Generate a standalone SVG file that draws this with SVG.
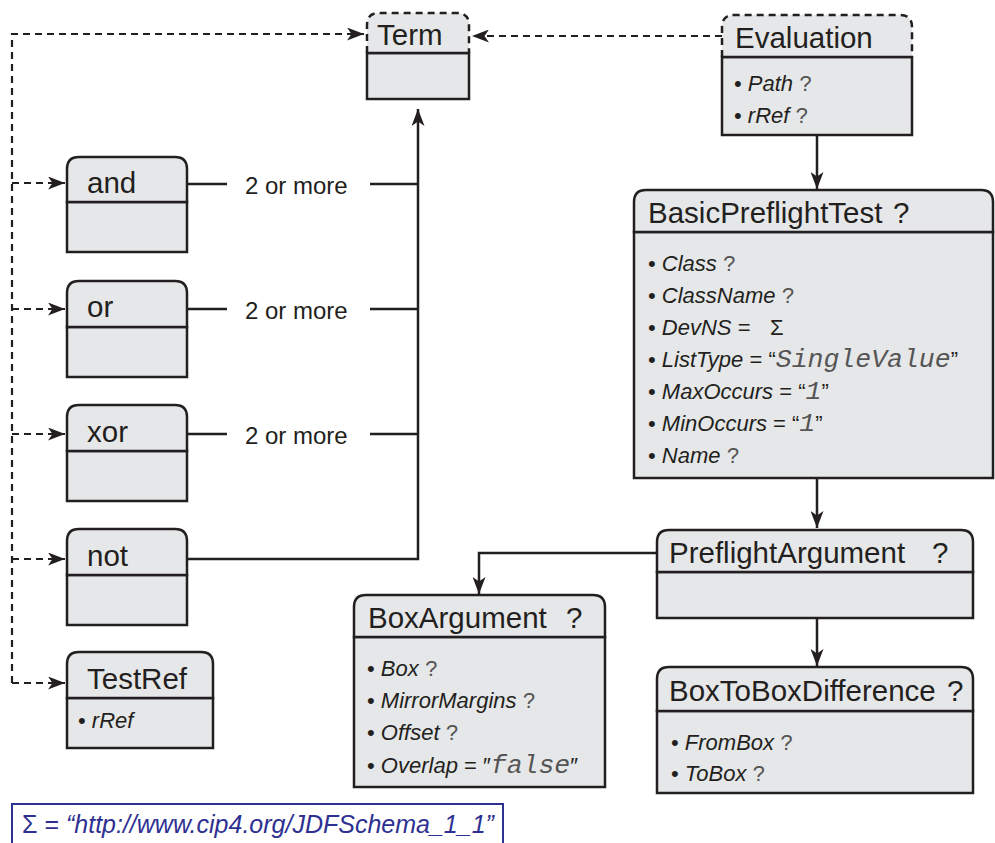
<svg xmlns="http://www.w3.org/2000/svg" width="995" height="843" viewBox="0 0 995 843">
<defs>
<style>
.hd{fill:#e6e7e8;stroke:#231f20;stroke-width:2.5}
.bd{fill:#e6e7e8;stroke:#231f20;stroke-width:2.5}
.dh{fill:#e6e7e8;stroke:#231f20;stroke-width:2.5;stroke-dasharray:7 5}
.ln{fill:none;stroke:#231f20;stroke-width:2.5}
.dl{fill:none;stroke:#231f20;stroke-width:2.2;stroke-dasharray:7 5}
.t{font-family:"Liberation Sans",Arial,sans-serif;font-size:29.5px;fill:#231f20}
.s{font-family:"Liberation Sans",Arial,sans-serif;font-size:24px;fill:#231f20}
.a{font-family:"Liberation Sans",Arial,sans-serif;font-size:22px;fill:#231f20}
.i{font-style:italic}
.q{font-family:"Liberation Mono","Courier New",monospace;fill:#555}
.m{font-family:"Liberation Mono","Courier New",monospace;font-style:italic;fill:#555;font-size:26.5px}
.ft{font-family:"Liberation Sans",Arial,sans-serif;font-size:25px;fill:#2e3192}
</style>
<marker id="ar" viewBox="0 0 17 13" refX="17" refY="6.5" markerWidth="17" markerHeight="13" markerUnits="userSpaceOnUse" orient="auto">
<path d="M0,0 L17,6.5 L0,13 L4.5,6.5 z" fill="#231f20"/>
</marker>
</defs>

<g id="connectors">
<path class="dl" d="M12,683 V34 H364" marker-end="url(#ar)"/>
<path class="dl" d="M12,183 H65" marker-end="url(#ar)"/>
<path class="dl" d="M12,309 H65" marker-end="url(#ar)"/>
<path class="dl" d="M12,434 H65" marker-end="url(#ar)"/>
<path class="dl" d="M12,559 H65" marker-end="url(#ar)"/>
<path class="dl" d="M12,683 H65" marker-end="url(#ar)"/>
<path class="dl" d="M722,36 H472" marker-end="url(#ar)"/>
<path class="ln" d="M187,184 H227 M370,184 H418"/>
<path class="ln" d="M187,309 H227 M370,309 H418"/>
<path class="ln" d="M187,434 H227 M370,434 H418"/>
<path class="ln" d="M187,559 H418 V109" marker-end="url(#ar)"/>
<path class="ln" d="M817,135 V189" marker-end="url(#ar)"/>
<path class="ln" d="M817,478 V528" marker-end="url(#ar)"/>
<path class="ln" d="M657,553 H479 V594" marker-end="url(#ar)"/>
<path class="ln" d="M817,618 V666" marker-end="url(#ar)"/>
<text class="s" x="245" y="194">2 or more</text>
<text class="s" x="245" y="319">2 or more</text>
<text class="s" x="245" y="444">2 or more</text>
</g>

<g id="Term">
<rect class="bd" x="367" y="53" width="102" height="46"/>
<path class="dh" d="M367,53 V25 Q367,13 379,13 H457 Q469,13 469,25 V53"/>
<path class="ln" d="M367,53 H469"/>
<text class="t" x="377" y="45">Term</text>
</g>

<g id="Evaluation">
<rect class="bd" x="722" y="57" width="190" height="78"/>
<path class="dh" d="M722,57 V27 Q722,15 734,15 H900 Q912,15 912,27 V57"/>
<path class="ln" d="M722,57 H912"/>
<text class="t" x="735" y="48">Evaluation</text>
<text class="a" x="734" y="91">• <tspan class="i">Path</tspan> <tspan class="q">?</tspan></text>
<text class="a" x="734" y="123">• <tspan class="i">rRef</tspan> <tspan class="q">?</tspan></text>
</g>

<g id="and">
<rect class="bd" x="67" y="202" width="120" height="50"/>
<path class="hd" d="M67,202 V169 Q67,157 79,157 H175 Q187,157 187,169 V202 Z"/>
<text class="t" x="87" y="193">and</text>
</g>

<g id="or">
<rect class="bd" x="67" y="327" width="120" height="50"/>
<path class="hd" d="M67,327 V293 Q67,281 79,281 H175 Q187,281 187,293 V327 Z"/>
<text class="t" x="87" y="317">or</text>
</g>

<g id="xor">
<rect class="bd" x="67" y="451" width="120" height="50"/>
<path class="hd" d="M67,451 V417 Q67,405 79,405 H175 Q187,405 187,417 V451 Z"/>
<text class="t" x="87" y="442">xor</text>
</g>

<g id="not">
<rect class="bd" x="67" y="575" width="120" height="50"/>
<path class="hd" d="M67,575 V541 Q67,529 79,529 H175 Q187,529 187,541 V575 Z"/>
<text class="t" x="87" y="566">not</text>
</g>

<g id="TestRef">
<rect class="bd" x="67" y="698" width="146" height="50"/>
<path class="hd" d="M67,698 V664 Q67,652 79,652 H201 Q213,652 213,664 V698 Z"/>
<text class="t" x="87" y="689">TestRef</text>
<text class="a" x="78" y="728">• <tspan class="i">rRef</tspan></text>
</g>

<g id="BasicPreflightTest">
<rect class="bd" x="634" y="232" width="359" height="246"/>
<path class="hd" d="M634,232 V202 Q634,190 646,190 H981 Q993,190 993,202 V232 Z"/>
<text class="t" x="648" y="223">BasicPreflightTest<tspan x="893">?</tspan></text>
<text class="a" x="648" y="271">• <tspan class="i">Class</tspan> <tspan class="q">?</tspan></text>
<text class="a" x="648" y="303">• <tspan class="i">ClassName</tspan> <tspan class="q">?</tspan></text>
<text class="a" x="648" y="335">• <tspan class="i">DevNS</tspan> =  <tspan x="770">Σ</tspan></text>
<text class="a" x="648" y="367">• <tspan class="i">ListType</tspan> = “<tspan class="m">SingleValue</tspan>”</text>
<text class="a" x="648" y="399">• <tspan class="i">MaxOccurs</tspan> = “<tspan class="m">1</tspan>”</text>
<text class="a" x="648" y="431">• <tspan class="i">MinOccurs</tspan> = “<tspan class="m">1</tspan>”</text>
<text class="a" x="648" y="463">• <tspan class="i">Name</tspan> <tspan class="q">?</tspan></text>
</g>

<g id="PreflightArgument">
<rect class="bd" x="657" y="572" width="316" height="46"/>
<path class="hd" d="M657,572 V542 Q657,530 669,530 H961 Q973,530 973,542 V572 Z"/>
<text class="t" x="669" y="563">PreflightArgument<tspan x="932">?</tspan></text>
</g>

<g id="BoxArgument">
<rect class="bd" x="354" y="637" width="251" height="150"/>
<path class="hd" d="M354,637 V607 Q354,595 366,595 H593 Q605,595 605,607 V637 Z"/>
<text class="t" x="368" y="628">BoxArgument<tspan x="566">?</tspan></text>
<text class="a" x="367" y="676">• <tspan class="i">Box</tspan> <tspan class="q">?</tspan></text>
<text class="a" x="367" y="708">• <tspan class="i">MirrorMargins</tspan> <tspan class="q">?</tspan></text>
<text class="a" x="367" y="740">• <tspan class="i">Offset</tspan> <tspan class="q">?</tspan></text>
<text class="a" x="367" y="773">• <tspan class="i">Overlap</tspan> = ″<tspan class="m">false</tspan>″</text>
</g>

<g id="BoxToBoxDifference">
<rect class="bd" x="657" y="711" width="316" height="82"/>
<path class="hd" d="M657,711 V679 Q657,667 669,667 H961 Q973,667 973,679 V711 Z"/>
<text class="t" x="669" y="701">BoxToBoxDifference<tspan x="947">?</tspan></text>
<text class="a" x="671" y="750">• <tspan class="i">FromBox</tspan> <tspan class="q">?</tspan></text>
<text class="a" x="671" y="781">• <tspan class="i">ToBox</tspan> <tspan class="q">?</tspan></text>
</g>

<g id="legend">
<path d="M12,845 V804 H503 V845" fill="none" stroke="#2e3192" stroke-width="2"/>
<text class="ft" x="22" y="833">Σ = <tspan class="i">“http://www.cip4.org/JDFSchema_1_1”</tspan></text>
</g>
</svg>
